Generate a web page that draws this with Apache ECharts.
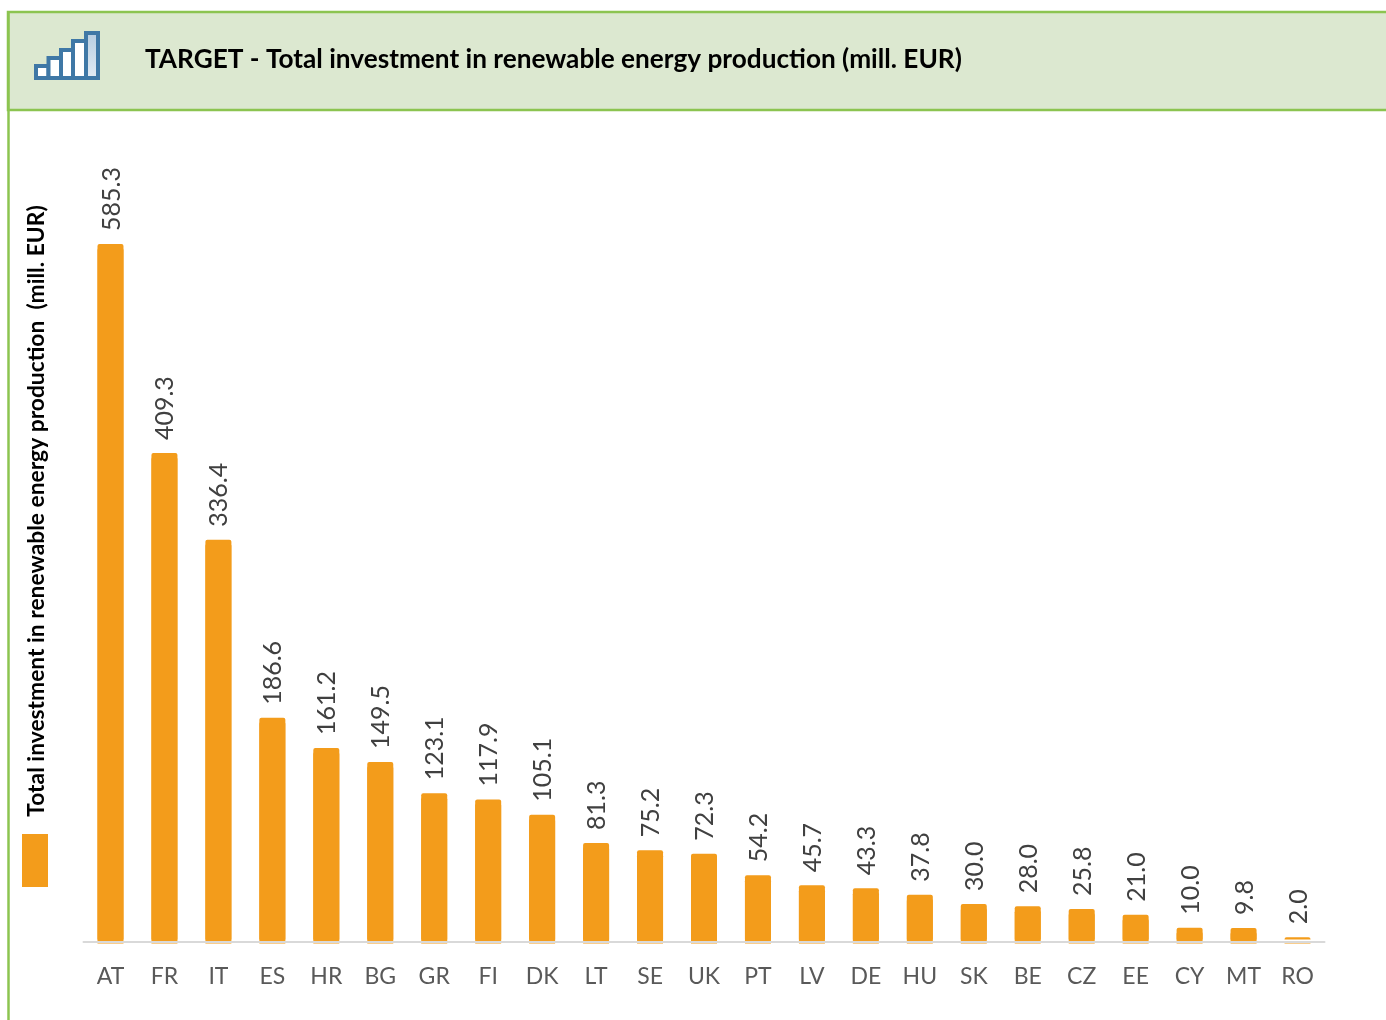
<!DOCTYPE html>
<html><head><meta charset="utf-8">
<style>html,body{margin:0;padding:0;background:#fff}#c{width:1386px;height:1020px}</style>
<script src="https://cdn.jsdelivr.net/npm/echarts@6/dist/echarts.min.js"></script>
</head><body><div id="c"></div>
<script>
const categories = ['AT','FR','IT','ES','HR','BG','GR','FI','DK','LT','SE','UK','PT','LV','DE','HU','SK','BE','CZ','EE','CY','MT','RO'];
const values = [585.3,409.3,336.4,186.6,161.2,149.5,123.1,117.9,105.1,81.3,75.2,72.3,54.2,45.7,43.3,37.8,30.0,28.0,25.8,21.0,10.0,9.8,2.0];
const chartTitle = 'TARGET - Total investment in renewable energy production (mill. EUR)';
const axisName = 'Total investment in renewable energy production  (mill. EUR)';
const FONT = 'Lato, "Open Sans", sans-serif';
const GREEN = '#8cc450', HEAD = '#dce8d0', ICON = '#3f78a6', ORANGE = '#f39c1b';
const iconBars = [[36,66,12.5,12],[48.5,58,12.5,20],[61,50,12,28],[73,41,13,37]];
const chart = echarts.init(document.getElementById('c'), null, {renderer:'canvas'});
chart.setOption({
  animation:false,
  backgroundColor:'#fff',
  title:{text:chartTitle,left:140,top:42,textStyle:{fontFamily:FONT,fontSize:26.2,fontWeight:'bold',color:'#000'}},
  grid:{left:83.5,top:167,width:1241,height:775,containLabel:false},
  legend:{show:true,left:22,top:834,itemWidth:26,itemHeight:53,itemGap:0,padding:0,icon:'rect',
    data:[axisName],formatter:()=>'',textStyle:{fontSize:1},
    itemStyle:{borderWidth:0,shadowBlur:0,shadowOffsetY:0,shadowColor:'transparent'}},
  xAxis:{type:'category',data:categories,z:5,
    axisLine:{show:true,onZero:false,lineStyle:{color:'#d9d9d9',width:2}},axisTick:{show:false},
    axisLabel:{interval:0,margin:23,fontFamily:FONT,fontSize:23,color:'#595959'}},
  yAxis:{type:'value',min:-2,max:650,show:false,splitLine:{show:false}},
  series:[{name:axisName,type:'bar',data:values,barWidth:26,
    itemStyle:{color:ORANGE,borderRadius:[2,2,0,0],shadowColor:ORANGE,shadowBlur:0,shadowOffsetY:4},
    label:{show:true,position:'top',rotate:90,distance:13,align:'left',verticalAlign:'middle',offset:[0,1],
      formatter:p=>p.value.toFixed(1),fontFamily:FONT,fontSize:25,color:'#404040'}}],
  graphic:{elements:[
    {type:'rect',z:-2,silent:true,shape:{x:8,y:12,width:1400,height:98},style:{fill:HEAD,stroke:GREEN,lineWidth:2.5}},
    {type:'line',z:-1,silent:true,shape:{x1:8.5,y1:12,x2:8.5,y2:1020},style:{stroke:GREEN,lineWidth:2.5}},
    ...iconBars.map(b=>({type:'rect',z:1,silent:true,shape:{x:b[0],y:b[1],width:b[2],height:b[3]},
      style:{fill:'#fff',stroke:ICON,lineWidth:4}})),
    {type:'rect',z:1,silent:true,shape:{x:86,y:33,width:12,height:45},
      style:{fill:new echarts.graphic.LinearGradient(0,0,0,1,[{offset:0,color:'#b5cce0'},{offset:1,color:'#e4edf5'}]),stroke:ICON,lineWidth:4}},
    {type:'text',z:3,silent:true,x:37,y:511,rotation:Math.PI/2,
      style:{text:axisName,fontFamily:FONT,fontSize:22.8,fontWeight:'bold',fill:'#000',align:'center',verticalAlign:'middle'}}
  ]}
});
</script></body></html>
